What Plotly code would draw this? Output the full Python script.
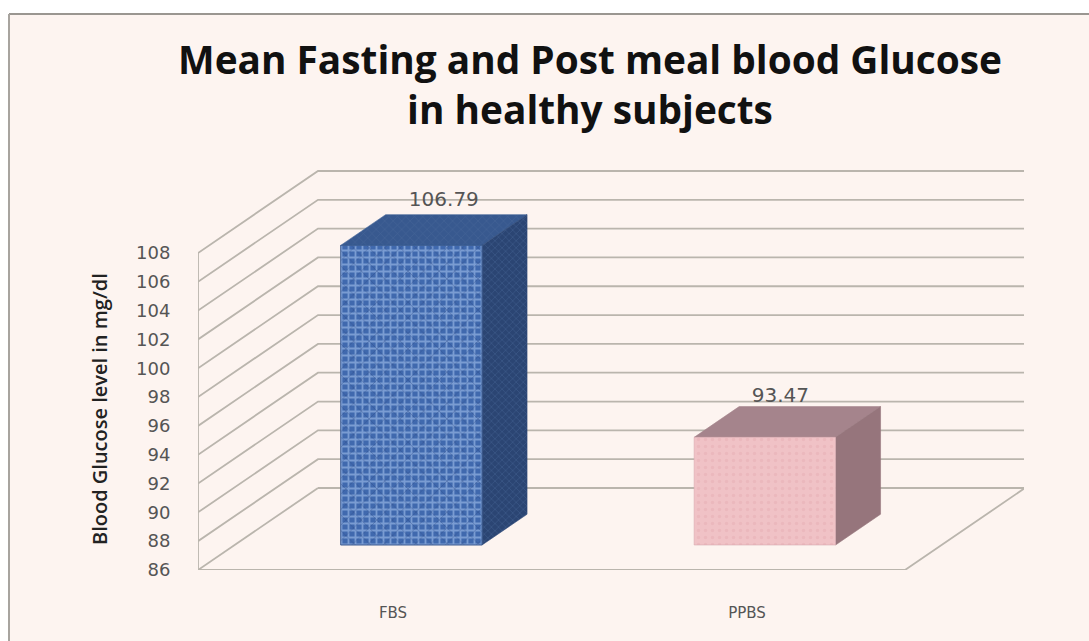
import plotly.graph_objects as go

# ---- data ----
categories = ["FBS", "PPBS"]
values = [106.79, 93.47]
value_labels = ["106.79", "93.47"]
y_ticks = [86, 88, 90, 92, 94, 96, 98, 100, 102, 104, 106, 108]
title_text = "<b>Mean Fasting and Post meal blood Glucose<br>in healthy subjects</b>"
y_title = "Blood Glucose level in mg/dl"

# ---- oblique projection of the 3-D chart onto the 2-D axes ----
W, H = 1089, 641
PLOT_L, PLOT_R, PLOT_T, PLOT_B = 198, 1024, 170, 570
PX_PER_X = 353.5        # px per category
PX_PER_Y = 14.41        # px per mg/dl
DEPTH_PX = (120, 82)
Y_MIN = 86
X_MAX = (PLOT_R - PLOT_L) / PX_PER_X
Y_MAX = Y_MIN + (PLOT_B - PLOT_T) / PX_PER_Y
DX = DEPTH_PX[0] / PX_PER_X
DY = DEPTH_PX[1] / PX_PER_Y
BAR_W = 0.40
D0, D1 = 0.305, 0.68
LABEL_NUDGE_PX = [(10, 29), (-7, 25)]


def proj(x, y, d=0.0):
    return x + DX * d, y + DY * d


def poly(points, fill, line=None, pattern=None):
    xs, ys = zip(*[proj(*p) for p in points + points[:1]])
    kw = dict(fillpattern=pattern) if pattern else {}
    return go.Scatter(x=xs, y=ys, mode="lines", fill="toself", fillcolor=fill,
                      line=dict(width=0.6, color=line or fill), hoverinfo="skip",
                      showlegend=False, cliponaxis=False, **kw)


fig = go.Figure()
GRID = "#bab5ad"

for t in y_ticks:
    xs, ys = zip(proj(0, t, 0), proj(0, t, 1), proj(2, t, 1))
    if t == Y_MIN:
        xs, ys = zip(proj(0, t, 1), proj(2, t, 1))
    fig.add_trace(go.Scatter(x=xs, y=ys, mode="lines", line=dict(color=GRID, width=1.8),
                             hoverinfo="skip", showlegend=False, cliponaxis=False))
for pts in ([proj(0, 108), proj(0, Y_MIN), proj(2, Y_MIN), proj(2, Y_MIN, 1)],
            [proj(0, Y_MIN), proj(0, Y_MIN, 1)]):
    xs, ys = zip(*pts)
    fig.add_trace(go.Scatter(x=xs, y=ys, mode="lines", line=dict(color=GRID, width=1.8),
                             hoverinfo="skip", showlegend=False, cliponaxis=False))

styles = [
    dict(front="#4f76b8", top="#3d5f94", side="#2f4a78", edge="#3a5a90",
         pattern=dict(shape="+", size=7, solidity=0.45, fgcolor="#b4d0f6", bgcolor="#4069ae"),
         overlay=dict(shape="x", size=11, solidity=0.12, fgcolor="#27457f", bgcolor="rgba(0,0,0,0)"),
         top_pattern=dict(shape="x", size=6, solidity=0.2, fgcolor="#4f6f9f", bgcolor="#38598f"),
         side_pattern=dict(shape="x", size=5, solidity=0.25, fgcolor="#4d6c9e", bgcolor="#2b4573")),
    dict(front="#eebcc1", top="#a5848c", side="#96757c", edge="#d8aab0",
         pattern=dict(shape=".", size=7, solidity=0.2, fgcolor="#e6adb4", bgcolor="#f0c2c6"),
         overlay=None, top_pattern=None, side_pattern=None),
]
label_x, label_y = [], []
for i, (v, st) in enumerate(zip(values, styles)):
    xc = i + 0.5
    xl, xr = xc - BAR_W / 2, xc + BAR_W / 2
    fig.add_trace(poly([(xl, v, D0), (xr, v, D0), (xr, v, D1), (xl, v, D1)], st["top"],
                       pattern=st["top_pattern"]))
    fig.add_trace(poly([(xr, Y_MIN, D0), (xr, Y_MIN, D1), (xr, v, D1), (xr, v, D0)],
                       st["side"], pattern=st["side_pattern"]))
    front = [(xl, Y_MIN, D0), (xr, Y_MIN, D0), (xr, v, D0), (xl, v, D0)]
    fig.add_trace(poly(front, st["front"], st["edge"], st["pattern"]))
    if st["overlay"]:
        fig.add_trace(poly(front, "rgba(0,0,0,0)", st["edge"], st["overlay"]))
    px, py = proj(xc, v, (D0 + D1) / 2)
    nx, ny = LABEL_NUDGE_PX[i]
    label_x.append(px + nx / PX_PER_X)
    label_y.append(py + ny / PX_PER_Y)

fig.add_trace(go.Scatter(x=label_x, y=label_y, mode="text", text=value_labels,
                         textposition="middle center",
                         textfont=dict(family="DejaVu Sans", size=20, color="#555555"),
                         hoverinfo="skip", showlegend=False, cliponaxis=False))

fig.update_layout(
    width=W, height=H,
    margin=dict(l=PLOT_L, r=W - PLOT_R, t=PLOT_T, b=H - PLOT_B, autoexpand=False),
    paper_bgcolor="#ffffff", plot_bgcolor="rgba(0,0,0,0)",
    title=dict(text=title_text, x=590 / W, xanchor="center", y=1 - 74 / H, yanchor="middle",
               font=dict(family="Open Sans", size=38.8, color="#111111")),
    xaxis=dict(range=[0, X_MAX], tickmode="array",
               tickvals=[(393 - PLOT_L) / PX_PER_X, (747 - PLOT_L) / PX_PER_X],
               ticktext=categories, showgrid=False, zeroline=False, showline=False,
               ticks="outside", ticklen=29, tickcolor="rgba(0,0,0,0)",
               tickfont=dict(family="DejaVu Sans", size=15, color="#555555")),
    yaxis=dict(range=[Y_MIN, Y_MAX], tickmode="array", tickvals=y_ticks,
               showgrid=False, zeroline=False, showline=False,
               ticks="outside", ticklen=23, tickcolor="rgba(0,0,0,0)",
               tickfont=dict(family="DejaVu Sans", size=18, color="#555555")),
    annotations=[dict(text=y_title, textangle=-90, showarrow=False,
                      xref="paper", yref="paper",
                      x=(99 - PLOT_L) / (PLOT_R - PLOT_L), y=(PLOT_B - 409) / (PLOT_B - PLOT_T),
                      xanchor="center", yanchor="middle",
                      font=dict(family="Open Sans", size=20, weight=600, color="#222222"))],
    shapes=[
        dict(type="rect", xref="paper", yref="paper", layer="below",
             x0=(10 - PLOT_L) / (PLOT_R - PLOT_L), x1=(W + 5 - PLOT_L) / (PLOT_R - PLOT_L),
             y0=(PLOT_B - H - 5) / (PLOT_B - PLOT_T), y1=(PLOT_B - 14) / (PLOT_B - PLOT_T),
             fillcolor="#fdf4f0", line=dict(color="rgba(0,0,0,0)", width=0)),
        dict(type="line", xref="paper", yref="paper", layer="below",
             x0=(9 - PLOT_L) / (PLOT_R - PLOT_L), x1=(W + 5 - PLOT_L) / (PLOT_R - PLOT_L),
             y0=(PLOT_B - 14) / (PLOT_B - PLOT_T), y1=(PLOT_B - 14) / (PLOT_B - PLOT_T),
             line=dict(color="#9a9691", width=2)),
        dict(type="line", xref="paper", yref="paper", layer="below",
             x0=(9 - PLOT_L) / (PLOT_R - PLOT_L), x1=(9 - PLOT_L) / (PLOT_R - PLOT_L),
             y0=(PLOT_B - H - 5) / (PLOT_B - PLOT_T), y1=(PLOT_B - 14) / (PLOT_B - PLOT_T),
             line=dict(color="#a8a49f", width=2)),
    ],
)

fig.write_html("out.html", config={"displayModeBar": False},
               post_script="document.body.style.margin='0';document.documentElement.style.overflow='hidden';")
